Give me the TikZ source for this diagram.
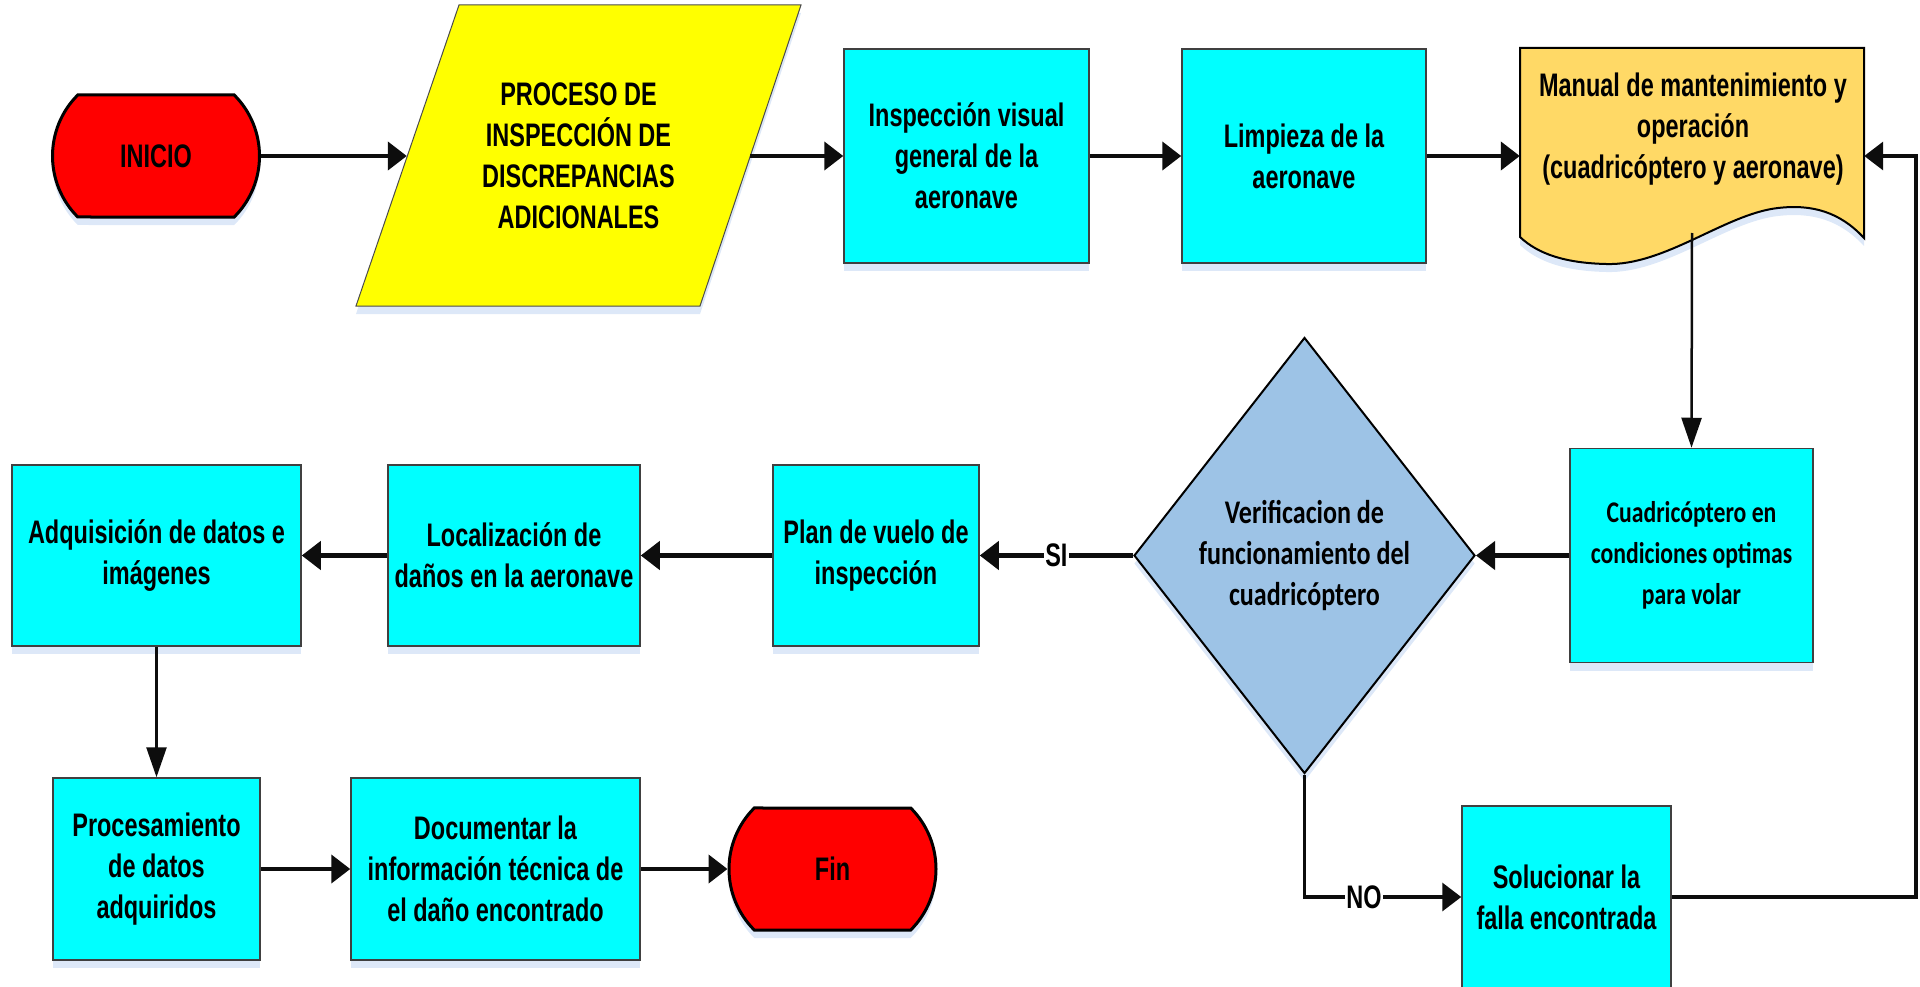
\documentclass[tikz,border=0pt]{standalone}
\usepackage{fontspec}
\newfontfamily\narrowfont{Liberation Sans}[FakeStretch=0.72]
\newfontfamily\calfont{Carlito}[FakeStretch=0.79]
\usetikzlibrary{shapes.geometric,shapes.misc,arrows.meta,shadows}
\definecolor{cyanc}{RGB}{0,255,255}
\definecolor{yellowc}{RGB}{255,255,0}
\definecolor{redc}{RGB}{255,0,0}
\definecolor{docc}{RGB}{255,217,102}
\definecolor{diamc}{RGB}{157,195,230}
\definecolor{shadowc}{RGB}{212,226,246}
\begin{document}
\begin{tikzpicture}[x=1pt,y=-1pt,
  myshadow/.style={drop shadow={shadow xshift=0pt,shadow yshift=-8pt,fill=shadowc,opacity=0.8}},
  base/.style={inner sep=0pt, align=center, text=black, font=\narrowfont\bfseries\fontsize{32.6pt}{41pt}\selectfont},
  calbase/.style={font=\calfont\bfseries\fontsize{30pt}{41pt}\selectfont},
  cbox/.style={base, rectangle, draw=black!75, line width=1.5pt, fill=cyanc, myshadow},
  terminal/.style={base, rounded rectangle, rounded rectangle arc length=90, draw=black, line width=3pt, fill=redc, minimum width=207pt, minimum height=122pt, myshadow},
  flow/.style={draw=black!95, line width=4.3pt, -{Triangle[length=19pt,width=28pt]}},
  thinflow/.style={draw=black!95, line width=2.5pt, -{Triangle[length=30pt,width=20pt]}},
  lab/.style={base, fill=white, inner sep=1.5pt}
]
\useasboundingbox (0,0) rectangle (1920,987);

% top row
\node[terminal] (inicio) at (156,156) {INICIO};
\draw[draw=black!70, line width=1pt, fill=yellowc, myshadow] (459,5) -- (801,5) -- (700,306) -- (356,306) -- cycle;
\node[base, minimum width=343pt, minimum height=301pt] (para) at (578.5,156) {PROCESO DE\\INSPECCIÓN DE\\DISCREPANCIAS\\ADICIONALES};
\node[cbox, minimum width=245pt, minimum height=214pt] (insp) at (966.5,156) {Inspección visual\\general de la\\aeronave};
\node[cbox, minimum width=244pt, minimum height=214pt] (limp) at (1304,156) {Limpieza de la\\aeronave};
\draw[draw=black, line width=2pt, fill=docc, myshadow] (1520,48) -- (1864,48) -- (1864,238)
  .. controls (1840,212) and (1812,204) .. (1778,208)
  .. controls (1725,214) and (1665,266) .. (1606,264)
  .. controls (1565,263) and (1538,254) .. (1520,237) -- cycle;
\node[inner sep=0pt, minimum width=344pt, minimum height=216pt] (manual) at (1692,156) {};
\node[base] (manualtxt) at (1693,129.5) {Manual de mantenimiento y\\operación\\(cuadricóptero y aeronave)};
\coordinate (manualS) at (1692,233);

% middle row
\node[cbox, calbase, minimum width=243pt, minimum height=214pt] (cuad) at (1691.5,555.5) {Cuadricóptero en\\condiciones optimas\\para volar};
\node[diamond, draw=black, line width=2pt, fill=diamc, minimum width=341pt, minimum height=436pt, inner sep=0pt, align=center, font=\calfont\bfseries\fontsize{33pt}{41pt}\selectfont, myshadow] (diam) at (1304.5,555.5) {Verificacion de\\funcionamiento del\\cuadricóptero};
\node[cbox, minimum width=206pt, minimum height=181pt] (plan) at (876,555.5) {Plan de vuelo de\\inspección};
\node[cbox, minimum width=252pt, minimum height=181pt] (local) at (514,555.5) {Localización de\\daños en la aeronave};
\node[cbox, minimum width=289pt, minimum height=181pt] (adq) at (156.5,555.5) {Adquisición de datos e\\imágenes};

% bottom row
\node[cbox, minimum width=207pt, minimum height=182pt] (proc) at (156.5,869) {Procesamiento\\de datos\\adquiridos};
\node[cbox, minimum width=289pt, minimum height=182pt] (docu) at (495.5,869) {Documentar la\\información técnica de\\el daño encontrado};
\node[terminal] (fin) at (832.5,869) {Fin};
\node[cbox, minimum width=209pt, minimum height=182pt] (sol) at (1566.5,897) {Solucionar la\\falla encontrada};
\coordinate (fb) at (1916,897);

% connectors
\draw[flow] (inicio.east) -- (para.west);
\draw[flow] (para.east) -- (insp.west);
\draw[flow] (insp.east) -- (limp.west);
\draw[flow] (limp.east) -- (manual.west);
\draw[thinflow] (manualS) -- (cuad.north);
\draw[flow] (cuad.west) -- (diam.east);
\draw[flow] (diam.west) -- node[lab]{SI} (plan.east);
\draw[flow] (plan.west) -- (local.east);
\draw[flow] (local.west) -- (adq.east);
\draw[thinflow] (adq.south) -- (proc.north);
\draw[flow] (proc.east) -- (docu.west);
\draw[flow] (docu.east) -- (fin.west);
\draw[flow, line width=3.5pt] (diam.south) |- node[lab, pos=0.69]{NO} (sol.west);
\draw[flow, line width=3.5pt] (sol.east) -- (fb) |- (manual.east);
\end{tikzpicture}
\end{document}
